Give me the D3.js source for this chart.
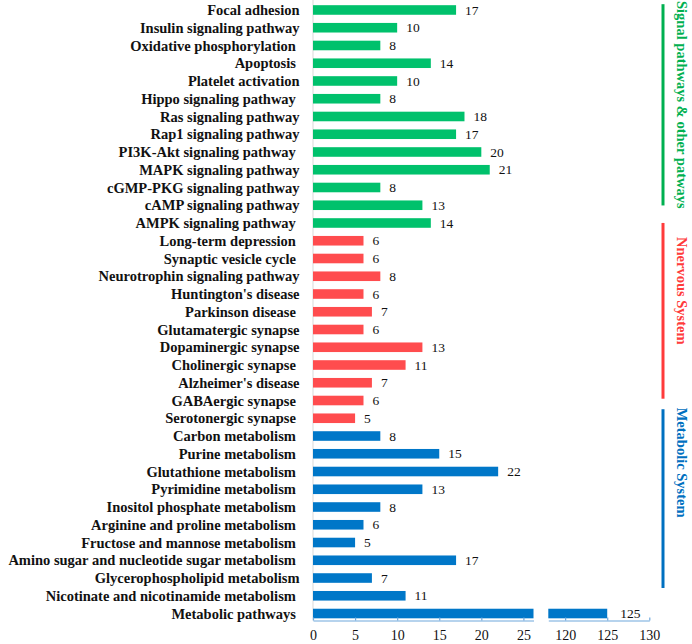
<!DOCTYPE html>
<html>
<head>
<meta charset="utf-8">
<script src="https://cdn.jsdelivr.net/npm/d3@7"></script>
<style>
  html, body { margin: 0; padding: 0; background: #fff; }
  svg { display: block; }
  svg text { font-family: "Liberation Serif", "Times New Roman", Times, serif !important; }
</style>
</head>
<body>
<svg id="chart" width="692" height="644"></svg>
<script>
// ---- data ----
const signalCategories = ["Focal adhesion", "Insulin signaling pathway", "Oxidative phosphorylation ", "Apoptosis ",
  "Platelet activation", "Hippo signaling pathway ", "Ras signaling pathway", "Rap1 signaling pathway",
  "PI3K-Akt signaling pathway ", "MAPK signaling pathway", "cGMP-PKG signaling pathway", "cAMP signaling pathway",
  "AMPK signaling pathway "];
const signalValues = [17, 10, 8, 14, 10, 8, 18, 17, 20, 21, 8, 13, 14];

const nervousCategories = ["Long-term depression ", "Synaptic vesicle cycle ", "Neurotrophin signaling pathway",
  "Huntington's disease", "Parkinson disease ", "Glutamatergic synapse", "Dopaminergic synapse",
  "Cholinergic synapse ", "Alzheimer's disease", "GABAergic synapse ", "Serotonergic synapse "];
const nervousValues = [6, 6, 8, 6, 7, 6, 13, 11, 7, 6, 5];

const metabolicCategories = ["Carbon metabolism ", "Purine metabolism ", "Glutathione metabolism ",
  "Pyrimidine metabolism ", "Inositol phosphate metabolism ", "Arginine and proline metabolism ",
  "Fructose and mannose metabolism ", "Amino sugar and nucleotide sugar metabolism ",
  "Glycerophospholipid metabolism", "Nicotinate and nicotinamide metabolism ", "Metabolic pathways "];
const metabolicValues = [8, 15, 22, 13, 8, 6, 5, 17, 7, 11, 125];

const groupNames = ["Signal pathways & other patways", "Nnervous System", "Metabolic System"];
const lowTicks = [0, 5, 10, 15, 20, 25];
const highTicks = [120, 125, 130];
const lowDomain = [0, 26.2];
const highDomain = [118, 130];

// ---- styles ----
const FONT = "'Liberation Serif', 'Times New Roman', Times, serif";
const barColors = ["#00C16C", "#FF4C4E", "#0077C8"];
const groupColors = ["#00B050", "#FF3B3B", "#0070C0"];
const axisColor = "#6FA8DC";

const groups = [
  {name: groupNames[0], cats: signalCategories, vals: signalValues},
  {name: groupNames[1], cats: nervousCategories, vals: nervousValues},
  {name: groupNames[2], cats: metabolicCategories, vals: metabolicValues}
];
const rows = [];
groups.forEach((g, gi) => g.cats.forEach((c, i) => rows.push({cat: c, val: g.vals[i], g: gi})));

const svg = d3.select("#chart");

const axisY = 620.5;
const y = d3.scaleBand()
  .domain(rows.map(d => d.cat))
  .range([1.1, 622.4])
  .paddingInner(0.46)
  .paddingOuter(0.23);

const x1 = d3.scaleLinear().domain(lowDomain).range([313, 533.5]);
const x2 = d3.scaleLinear().domain(highDomain).range([548.3, 649.3]);

// y axis line
svg.append("line")
  .attr("x1", x1(0)).attr("x2", x1(0))
  .attr("y1", 0).attr("y2", axisY)
  .attr("stroke", "#D9D9D9").attr("stroke-width", 1);

// bars
const bars = svg.append("g");
rows.forEach(d => {
  const yy = y(d.cat), h = y.bandwidth();
  if (d.val > lowDomain[1]) {
    bars.append("rect").attr("x", x1(0)).attr("y", yy)
      .attr("width", x1(lowDomain[1]) - x1(0)).attr("height", h).attr("fill", barColors[d.g]);
    bars.append("rect").attr("x", x2(highDomain[0])).attr("y", yy)
      .attr("width", x2(d.val) - x2(highDomain[0])).attr("height", h).attr("fill", barColors[d.g]);
  } else {
    bars.append("rect").attr("x", x1(0)).attr("y", yy)
      .attr("width", x1(d.val) - x1(0)).attr("height", h).attr("fill", barColors[d.g]);
  }
});

// value labels
svg.append("g").selectAll("text").data(rows).join("text")
  .attr("x", d => (d.val > lowDomain[1] ? x2(d.val) + 13 : x1(d.val) + 9))
  .attr("y", d => y(d.cat) + y.bandwidth() / 2)
  .attr("dy", "0.35em")
  .attr("font-family", FONT)
  .attr("font-size", "13.5px")
  .attr("fill", "#111")
  .text(d => d.val);

// category labels
svg.append("g").selectAll("text").data(rows).join("text")
  .attr("x", 299.5)
  .attr("y", d => y(d.cat) + y.bandwidth() / 2)
  .attr("dy", "0.35em")
  .attr("text-anchor", "end")
  .attr("font-family", FONT)
  .attr("font-size", "14.5px")
  .attr("font-weight", "bold")
  .attr("fill", "#111")
  .style("white-space", "pre")
  .text(d => d.cat);

// x axes (broken)
function styleAxis(g) {
  g.attr("font-family", FONT).attr("font-size", 14);
  g.select(".domain").attr("stroke", axisColor).attr("stroke-width", 1.2);
  g.selectAll(".tick line").attr("stroke", axisColor).attr("stroke-width", 1.2);
  g.selectAll(".tick text").attr("fill", "#111")
    .attr("font-family", FONT)
    .attr("font-size", "14px");
}
svg.append("g").attr("transform", `translate(0,${axisY})`)
  .call(d3.axisBottom(x1).tickValues(lowTicks).tickSize(-3).tickSizeOuter(0).tickPadding(10))
  .call(styleAxis);
svg.append("g").attr("transform", `translate(0,${axisY})`)
  .call(d3.axisBottom(x2).tickValues(highTicks).tickSize(-3).tickSizeOuter(0).tickPadding(10))
  .call(styleAxis);

// group brackets and labels
const bracketX = 663, labelX = 682;
const lineSpans = [[y(signalCategories[0]) - 1, y(signalCategories[11]) + 5],
                   [y(nervousCategories[0]) - 13, y(nervousCategories[9]) + 3],
                   [y(metabolicCategories[0]) - 22, y(metabolicCategories[9]) - 3]];
const textCenters = [(lineSpans[0][0] + lineSpans[0][1]) / 2,
                     (lineSpans[1][0] + lineSpans[1][1]) / 2 - 20,
                     (lineSpans[2][0] + lineSpans[2][1]) / 2 - 36];
groups.forEach((g, gi) => {
  svg.append("line")
    .attr("x1", bracketX).attr("x2", bracketX)
    .attr("y1", lineSpans[gi][0]).attr("y2", lineSpans[gi][1])
    .attr("stroke", groupColors[gi]).attr("stroke-width", 3);
  svg.append("text")
    .attr("transform", `translate(${labelX},${textCenters[gi]}) rotate(90)`)
    .attr("text-anchor", "middle")
    .attr("dy", "0.35em")
    .attr("font-family", FONT)
    .attr("font-size", "14.5px")
    .attr("font-weight", "bold")
    .attr("fill", groupColors[gi])
    .text(g.name);
});
</script>
</body>
</html>
